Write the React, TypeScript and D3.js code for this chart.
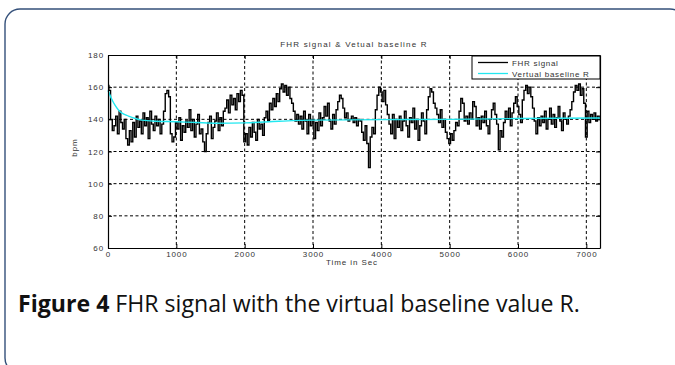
import React, { useEffect, useRef } from 'react';
import * as d3 from 'd3';

// FHR signal, one reading every 25 s from 0 to 7200 s (bpm)
const SIGNAL_STEP = 25;
const fhrValues = [
  161, 158, 140, 133,
  136, 142, 131, 145, 138, 134, 140,
  128, 124, 133, 126, 138, 129, 142, 135,
  139, 131, 144, 136, 141, 128, 145, 137, 133, 142, 136, 140, 131,
  137, 145, 156, 158, 154, 131, 126,
  129, 138, 134, 141, 127, 136, 132, 139, 135, 146, 133, 140, 129, 137, 143, 131,
  134, 126, 120, 131, 138, 142, 128, 135,
  139, 144, 133, 141, 136, 145,
  147, 152, 144, 155, 149, 153, 146, 156, 151, 158, 155,
  126, 131, 124,
  135, 129, 138, 132, 127, 140, 134, 137, 130, 141,
  145, 139, 150, 146, 153, 148, 156, 151,
  159, 162, 157, 161, 155, 160, 153,
  150, 145, 139, 143,
  137, 142, 134, 145, 139, 131, 143, 136, 140,
  128, 138, 133, 144, 136, 141,
  148, 142, 150, 139, 134, 143,
  137, 146, 151, 155, 153, 147, 141, 144, 139,
  140, 142, 138, 141, 136, 140, 139,
  132, 127, 136, 125, 110, 129, 135, 131,
  146, 155, 160, 157, 151, 158, 149, 143,
  137, 131, 143, 128, 140, 135, 142,
  133, 139, 145, 136, 129, 141, 138, 147, 134, 140, 127, 136, 144, 139, 131,
  146, 154, 159, 157, 150, 147,
  143, 138, 146, 135, 140, 132,
  128, 125, 131, 127, 133, 138, 136,
  145, 153, 150, 139, 142,
  137, 144, 140, 151, 148, 136, 141,
  134, 142, 138, 145, 136, 131, 140,
  146, 150, 143, 137,
  121, 133, 129,
  138, 145, 140, 147, 136, 144,
  150, 154, 148, 143, 138,
  152, 158, 161, 156, 160, 154, 147,
  139, 131, 141, 136,
  142, 138, 145, 134, 140, 147, 137, 143, 135, 141, 148, 139, 133, 144, 140, 137, 142, 146,
  151, 157, 161, 158, 162, 155, 159, 150,
  129, 145, 138, 143, 140, 144, 139, 142, 141,
];

// virtual baseline R
const baselineTimes = [0, 50, 100, 150, 200, 300, 400, 500, 700, 1000, 1300, 1600, 2000, 2500, 3000, 4000, 5000, 6000, 7200];
const baselineValues = [158, 153, 149, 146, 144, 142, 140.5, 139.5, 138.8, 138.5, 138, 137.6, 137.8, 138.8, 139.5, 139.8, 140, 140.5, 140.8];

const xTicks = [0, 1000, 2000, 3000, 4000, 5000, 6000, 7000];
const yTicks = [60, 80, 100, 120, 140, 160, 180];
const legendLabels = ['FHR signal', 'Vertual baseline R'];

const W = 675;
const H = 365;
const CYAN = '#22e8f0';

export default function App() {
  const svgRef = useRef<SVGSVGElement>(null);

  useEffect(() => {
    const svg = d3.select(svgRef.current);
    svg.selectAll('*').remove();

    const margin = { left: 108, right: 75, top: 55, bottom: 117 };
    const width = W - margin.left - margin.right;
    const height = H - margin.top - margin.bottom;
    const font = '"Liberation Sans", Arial, sans-serif';
    const small = (sel: any) => sel
      .attr('fill', '#333')
      .style('font-family', font)
      .style('font-size', '8px')
      .style('letter-spacing', '0.9px');

    // card frame
    svg.append('rect')
      .attr('x', 5).attr('y', 9)
      .attr('width', 680).attr('height', 364)
      .attr('rx', 15)
      .attr('fill', 'white')
      .attr('stroke', '#34507a')
      .attr('stroke-width', 1.4);

    const g = svg.append('g').attr('transform', `translate(${margin.left},${margin.top})`);

    const x = d3.scaleLinear().domain([0, 7200]).range([0, width]);
    const y = d3.scaleLinear().domain([60, 180]).range([height, 0]);

    // dashed grid
    g.append('g')
      .selectAll('line')
      .data(xTicks.filter(t => t > 0))
      .enter().append('line')
      .attr('x1', d => x(d)).attr('x2', d => x(d))
      .attr('y1', 0).attr('y2', height)
      .attr('stroke', '#000').attr('stroke-width', 1)
      .attr('stroke-dasharray', '3,2.5');

    g.append('g')
      .selectAll('line')
      .data(yTicks.filter(t => t > 60 && t < 180))
      .enter().append('line')
      .attr('x1', 0).attr('x2', width)
      .attr('y1', d => y(d)).attr('y2', d => y(d))
      .attr('stroke', '#000').attr('stroke-width', 1)
      .attr('stroke-dasharray', '3,2.5');

    // signal
    const fhrLine = d3.line<number>()
      .x((_, i) => x(i * SIGNAL_STEP))
      .y(d => y(d))
      .curve(d3.curveStep);

    g.append('path')
      .datum(fhrValues)
      .attr('d', fhrLine)
      .attr('fill', 'none')
      .attr('stroke', '#000')
      .attr('stroke-width', 1.4);

    const baseLine = d3.line<number>()
      .x((_, i) => x(baselineTimes[i]))
      .y(d => y(d))
      .curve(d3.curveMonotoneX);

    g.append('path')
      .datum(baselineValues)
      .attr('d', baseLine)
      .attr('fill', 'none')
      .attr('stroke', CYAN)
      .attr('stroke-width', 1.4);

    // axes box with inward ticks
    const axB = g.append('g').attr('transform', `translate(0,${height})`)
      .call(d3.axisBottom(x).tickValues(xTicks).tickSizeInner(-4).tickSizeOuter(0).tickPadding(3).tickFormat(d3.format('d')));
    const axL = g.append('g')
      .call(d3.axisLeft(y).tickValues(yTicks).tickSizeInner(-4).tickSizeOuter(0).tickPadding(4));
    const axT = g.append('g')
      .call(d3.axisTop(x).tickValues(xTicks).tickSizeInner(-4).tickSizeOuter(0).tickFormat(() => ''));
    const axR = g.append('g').attr('transform', `translate(${width},0)`)
      .call(d3.axisRight(y).tickValues(yTicks).tickSizeInner(-4).tickSizeOuter(0).tickFormat(() => ''));

    [axB, axL, axT, axR].forEach(a => {
      a.select('.domain').attr('stroke', '#000').attr('stroke-width', 1.2);
      a.selectAll('line').attr('stroke', '#000');
      small(a.selectAll('text'));
    });

    // title & labels
    small(g.append('text')
      .attr('x', width / 2).attr('y', -8)
      .attr('text-anchor', 'middle'))
      .style('letter-spacing', '1.2px')
      .text('FHR signal & Vetual baseline R');

    small(g.append('text')
      .attr('x', width / 2 - 2).attr('y', height + 17)
      .attr('text-anchor', 'middle'))
      .text('Time in Sec');

    small(g.append('text')
      .attr('transform', `translate(${-31},${height / 2 - 4}) rotate(-90)`)
      .attr('text-anchor', 'middle'))
      .text('bpm');

    // legend
    const lg = g.append('g').attr('transform', `translate(${width - 128},1)`);
    lg.append('rect')
      .attr('width', 128).attr('height', 23)
      .attr('fill', 'white').attr('stroke', '#000').attr('stroke-width', 1);
    legendLabels.forEach((label, i) => {
      const ly = 6.5 + i * 11;
      lg.append('line')
        .attr('x1', 6).attr('x2', 36)
        .attr('y1', ly).attr('y2', ly)
        .attr('stroke', i === 0 ? '#000' : CYAN)
        .attr('stroke-width', 1.3);
      small(lg.append('text')
        .attr('x', 40).attr('y', ly + 3))
        .style('letter-spacing', '0.7px')
        .text(label);
    });

    // caption, sized to the width it has in the figure
    const cap = svg.append('text')
      .attr('x', 18).attr('y', 312)
      .attr('fill', '#111')
      .style('font-family', '"Open Sans", Lato, sans-serif')
      .style('font-size', '18px');
    cap.append('tspan').attr('font-weight', 'bold').text('Figure 4');
    cap.append('tspan').text(' FHR signal with the virtual baseline value R.');
    const len = (cap.node() as SVGTextElement).getComputedTextLength();
    cap.style('font-size', `${(18 * 562) / len}px`);
  }, []);

  return (
    <svg
      ref={svgRef}
      width={W}
      height={H}
      style={{ position: 'absolute', left: 0, top: 0, display: 'block', background: 'white' }}
    />
  );
}
